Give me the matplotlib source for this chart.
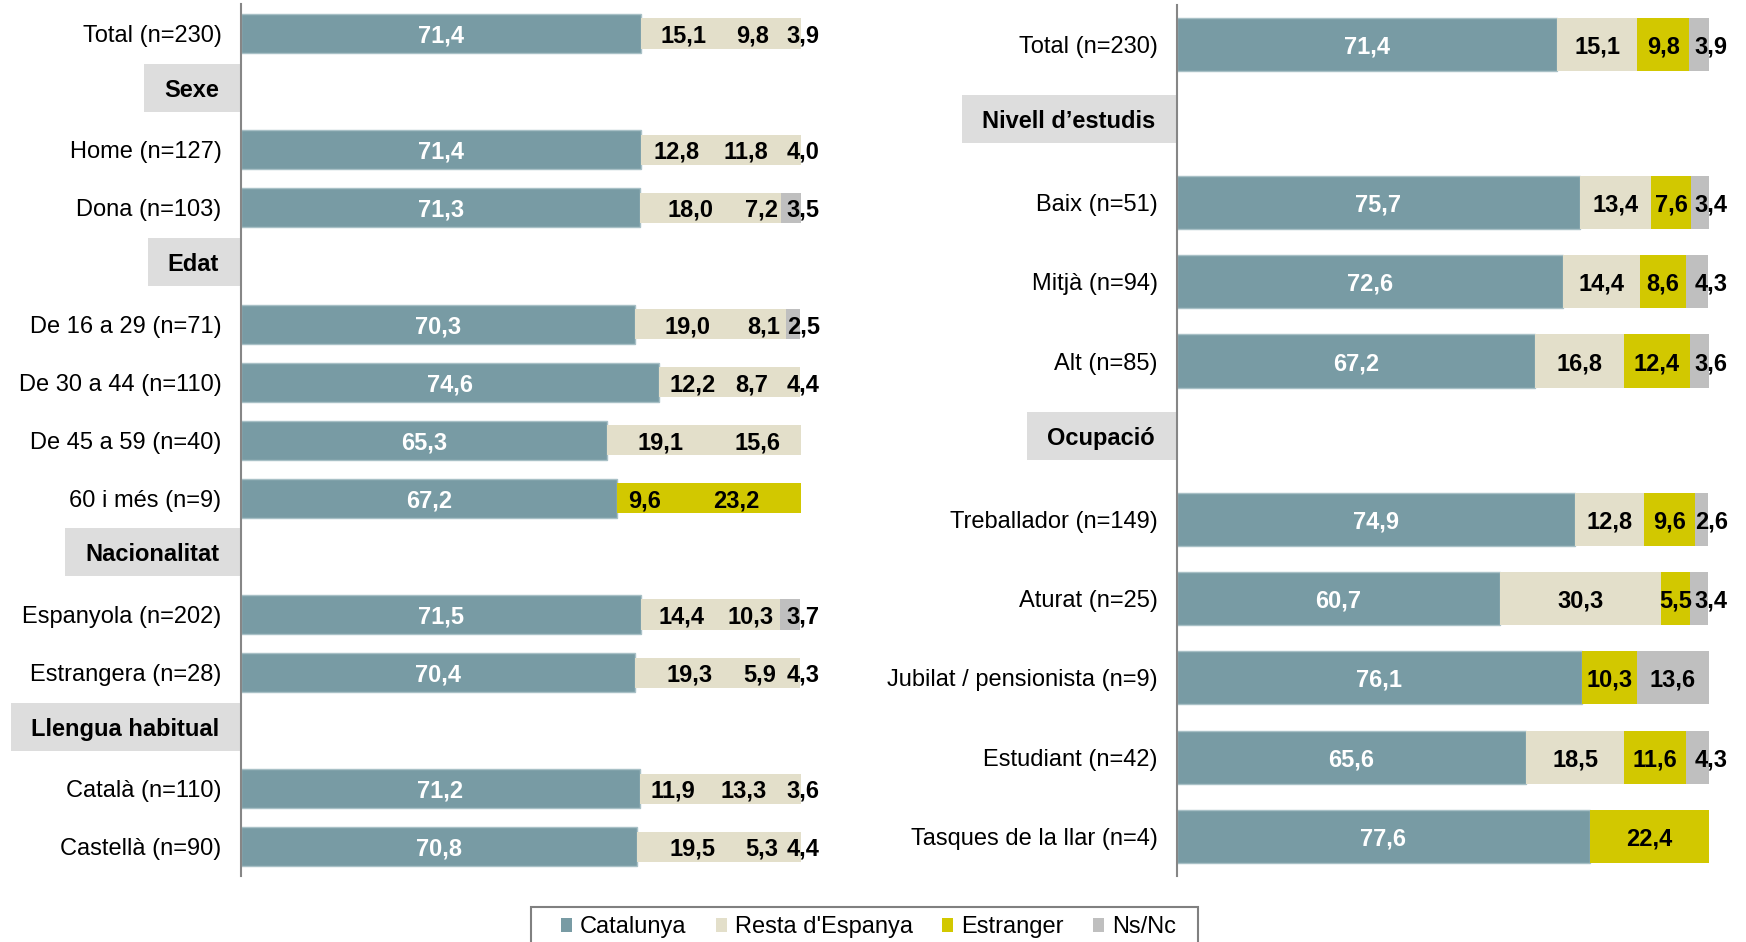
import matplotlib
matplotlib.use('Agg')
import matplotlib.pyplot as plt
from matplotlib.patches import Rectangle, Patch

plt.rcParams['font.family'] = ['Liberation Sans', 'DejaVu Sans']

W, H = 1746, 942

### Data #######################################################################
series = ['Catalunya', "Resta d'Espanya", 'Estranger', 'Ns/Nc']
colours = ['#789BA4', '#E3DFCA', '#D2C800', '#BFBFBF']

# left panel
left_rows = ['Total (n=230)', 'Home (n=127)', 'Dona (n=103)',
             'De 16 a 29 (n=71)', 'De 30 a 44 (n=110)', 'De 45 a 59 (n=40)',
             '60 i més (n=9)', 'Espanyola (n=202)', 'Estrangera (n=28)',
             'Català (n=110)', 'Castellà (n=90)']
left_headers = ['Sexe', 'Edat', 'Nacionalitat', 'Llengua habitual']
left_header_before = [1, 3, 7, 9]
left_catalunya = [71.4, 71.4, 71.3, 70.3, 74.6, 65.3, 67.2, 71.5, 70.4, 71.2, 70.8]
left_resta = [15.1, 12.8, 18.0, 19.0, 12.2, 19.1, 9.6, 14.4, 19.3, 11.9, 19.5]
left_estranger = [9.8, 11.8, 7.2, 8.1, 8.7, 15.6, 23.2, 10.3, 5.9, 13.3, 5.3]
left_nsnc = [3.9, 4.0, 3.5, 2.5, 4.4, 0, 0, 3.7, 4.3, 3.6, 4.4]

# right panel
right_rows = ['Total (n=230)', 'Baix (n=51)', 'Mitjà (n=94)', 'Alt (n=85)',
              'Treballador (n=149)', 'Aturat (n=25)', 'Jubilat / pensionista (n=9)',
              'Estudiant (n=42)', 'Tasques de la llar (n=4)']
right_headers = ['Nivell d\u2019estudis', 'Ocupació']
right_header_before = [1, 4]
right_catalunya = [71.4, 75.7, 72.6, 67.2, 74.9, 60.7, 76.1, 65.6, 77.6]
right_resta = [15.1, 13.4, 14.4, 16.8, 12.8, 30.3, 0, 18.5, 0]
right_estranger = [9.8, 7.6, 8.6, 12.4, 9.6, 5.5, 10.3, 11.6, 22.4]
right_nsnc = [3.9, 3.4, 4.3, 3.6, 2.6, 3.4, 13.6, 4.3, 0]

# the left chart shows the other segments in beige, grey only on a few rows
left_grey_rows = ['Dona (n=103)', 'De 16 a 29 (n=71)', 'Espanyola (n=202)']
left_yellow_rows = ['60 i més (n=9)']
################################################################################


def fmt(v):
    return f'{v:.1f}'.replace('.', ',')


def slot_positions(n_rows, header_before):
    pos, hdr, s = [], [], 0
    for i in range(n_rows):
        if i in header_before:
            hdr.append(s)
            s += 1
        pos.append(s)
        s += 1
    return pos, hdr, s


def draw_panel(ax, rows, cat, resta, estr, ns, headers, header_before, left_style):
    pos, hdr, n = slot_positions(len(rows), header_before)
    ax.set_xlim(0, 100)
    ax.set_ylim(n - 0.5, -0.5)

    for i, row in enumerate(rows):
        y = pos[i]
        vals = [cat[i], resta[i], estr[i], ns[i]]
        if left_style:
            if row in left_yellow_rows:
                seg_cols = [colours[0], colours[2], colours[2], colours[2]]
            elif row in left_grey_rows:
                seg_cols = [colours[0], colours[1], colours[1], colours[3]]
            else:
                seg_cols = [colours[0], colours[1], colours[1], colours[1]]
            heights = [0.67, 0.52, 0.52, 0.52]
        else:
            seg_cols = colours
            heights = [0.67] * 4
        left = 0
        for k, v in enumerate(vals):
            if v > 0:
                ax.barh(y, v, left=left, height=heights[k], color=seg_cols[k],
                        edgecolor='#A8C0C6' if k == 0 else 'none',
                        linewidth=1 if k == 0 else 0, zorder=2)
                cx = left + v / 2
                # small Ns/Nc labels sit just past the end of the bar
                if k == 3 and v < 6:
                    cx = 100.4
                ax.text(cx, y, fmt(v), ha='center', va='center_baseline', fontsize=17,
                        fontweight='bold', color='white' if k == 0 else 'black',
                        zorder=4, clip_on=False)
            left += v

    ax.set_yticks(pos)
    ax.set_yticklabels(rows, fontsize=17)
    ax.tick_params(axis='y', length=0, pad=14)
    ax.set_xticks([])
    for side in ['top', 'right', 'bottom']:
        ax.spines[side].set_visible(False)
    ax.spines['left'].set_color('#868686')
    ax.spines['left'].set_linewidth(1.5)
    ax.spines['left'].set_zorder(5)

    # group headers in grey boxes
    renderer = fig.canvas.get_renderer()
    ax_bb = ax.get_window_extent(renderer)
    for name, y in zip(headers, hdr):
        yd = ax.transData.transform((0, y))[1] + 4
        t = ax.text(ax_bb.x0 - 22, yd, name, ha='right', va='center_baseline',
                    fontsize=17, fontweight='bold', transform=None, zorder=3)
        tb = t.get_window_extent(renderer)
        x0, x1 = tb.x0 - 20, ax_bb.x0 - 1.5
        y0, y1 = yd - 24, yd + 24
        inv = ax.transAxes.inverted()
        (ax0, ay0), (ax1, ay1) = inv.transform([(x0, y0), (x1, y1)])
        ax.add_patch(Rectangle((ax0, ay0), ax1 - ax0, ay1 - ay0, transform=ax.transAxes,
                               facecolor='#DDDDDD', edgecolor='none',
                               clip_on=False, zorder=1))


fig = plt.figure(figsize=(W / 100, H / 100), dpi=100)
bottom, height = (H - 876) / H, 871.5 / H
ax_l = fig.add_axes([241 / W, bottom, 560 / W, height])
ax_r = fig.add_axes([1177 / W, bottom, 532 / W, height])
fig.canvas.draw()

draw_panel(ax_l, left_rows, left_catalunya, left_resta, left_estranger, left_nsnc,
           left_headers, left_header_before, True)
draw_panel(ax_r, right_rows, right_catalunya, right_resta, right_estranger, right_nsnc,
           right_headers, right_header_before, False)

handles = [Patch(facecolor=c, edgecolor='none') for c in colours]
fig.legend(handles, series, loc='center left', ncol=4,
           bbox_to_anchor=(561 / W, 1 - 927 / H), frameon=False, fontsize=17,
           handlelength=0.47, handleheight=0.55, handletextpad=0.34,
           columnspacing=1.23, borderpad=0, borderaxespad=0)
fig.add_artist(Rectangle((531 / W, -0.05), (1198 - 531) / W, (H - 907) / H + 0.05,
                         transform=fig.transFigure, fill=False,
                         edgecolor='#808080', linewidth=1.5))

fig.savefig('out.png', dpi=100)
